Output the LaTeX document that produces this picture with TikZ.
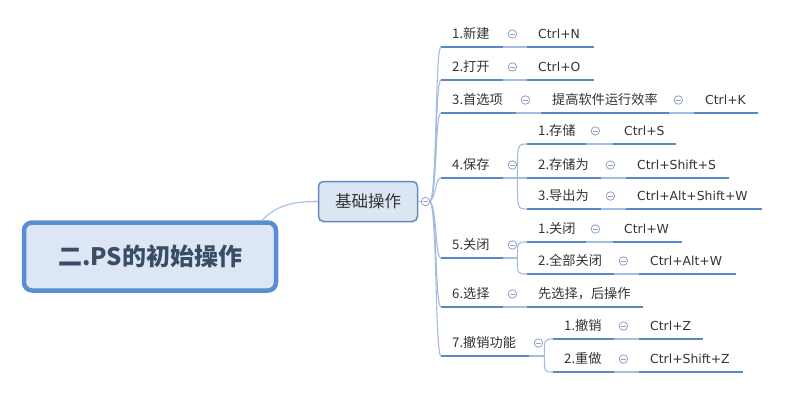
\documentclass[tikz,border=0pt]{standalone}
\usepackage{fontspec}
\setmainfont{Noto Sans CJK SC}
\newfontfamily\lat{DejaVu Sans}
\usetikzlibrary{calc}
\definecolor{ul}{HTML}{5B87C4}
\definecolor{cn}{HTML}{A3BCE0}
\definecolor{ci}{HTML}{8FA3C2}
\definecolor{tx}{HTML}{333333}
\definecolor{rootfill}{HTML}{DCE6F4}
\definecolor{rootdraw}{HTML}{5A8ED0}
\definecolor{rtx}{HTML}{3B4C66}
\definecolor{kfill}{HTML}{DCE6F2}
\definecolor{kdraw}{HTML}{6389C0}
\begin{document}
\begin{tikzpicture}[x=1pt,y=-1pt,
  lbl/.style={anchor=south west, inner xsep=11pt, inner ysep=6pt, text depth=2pt, text height=10pt,
    text width=#1, align=left, font=\fontsize{13.2}{15}\selectfont, text=tx,
    append after command={\pgfextra{\draw[uline] (\tikzlastnode.south west) -- (\tikzlastnode.south east);}}},
  key/.style={lbl=#1, font=\fontsize{12.4}{15}\selectfont\lat},
  uline/.style={draw=ul, line width=2.7pt},
  conn/.style={draw=cn, line width=1.1pt},
  col/.style={circle, draw=ci, line width=0.8pt, minimum size=8.5pt, inner sep=0pt, fill=white,
    path picture={\draw[ci, line width=0.8pt] ([xshift=-2.3pt]path picture bounding box.center) -- ([xshift=2.3pt]path picture bounding box.center);}},
  cshift/.style={shift={(9,-13)}}]
\useasboundingbox (0,0) rectangle (798,407);

% root and main topic
\node[draw=rootdraw, line width=4.5pt, fill=rootfill, rounded corners=8pt, minimum width=252pt, minimum height=68pt,
  font=\fontsize{24}{28}\selectfont\bfseries, text=rtx] (root) at (150,256.5) {二.PS的初始操作};
\node[draw=kdraw, line width=1.5pt, fill=kfill, rounded corners=5pt, minimum width=99pt, minimum height=40pt,
  font=\fontsize{16.5}{19}\selectfont, text=tx] (k) at (368,201.5) {基础操作};
\coordinate (r0) at ([xshift=-16pt]root.north east);
\draw[conn] (r0) .. controls (278,204) and (295,201.5) .. (k.west);
\node[col] (kc) at (425.5,201.5) {};
\draw[conn] (k.east) -- (kc.west);

% level 1
\node[lbl=40pt] (a1) at (441,47) {1.新建};
\node[key=45pt] (a1v) at (527,47) {Ctrl+N};
\node[lbl=40pt] (a2) at (441,80) {2.打开};
\node[key=45pt] (a2v) at (527,80) {Ctrl+O};
\node[lbl=53pt] (a3) at (441,113) {3.首选项};
\node[lbl=106pt] (a3v) at (541,113) {提高软件运行效率};
\node[key=42pt] (a3w) at (694,113) {Ctrl+K};
\node[lbl=40pt] (a4) at (441,178) {4.保存};
\node[lbl=37pt] (b1) at (527,144) {1.存储};
\node[key=41pt] (b1v) at (613,144) {Ctrl+S};
\node[lbl=52pt] (b2) at (527,178) {2.存储为};
\node[key=81pt] (b2v) at (626,178) {Ctrl+Shift+S};
\node[lbl=52pt] (b3) at (527,209) {3.导出为};
\node[key=114pt] (b3v) at (626,209) {Ctrl+Alt+Shift+W};
\node[lbl=40pt] (a5) at (441,258) {5.关闭};
\node[lbl=37pt] (c1) at (527,242) {1.关闭};
\node[key=47pt] (c1v) at (613,242) {Ctrl+W};
\node[lbl=65pt] (c2) at (527,274) {2.全部关闭};
\node[key=75pt] (c2v) at (639,274) {Ctrl+Alt+W};
\node[lbl=40pt] (a6) at (441,307) {6.选择};
\node[lbl=94pt] (a6v) at (527,307) {先选择，后操作};
\node[lbl=66pt] (a7) at (441,356) {7.撤销功能};
\node[lbl=39pt] (d1) at (553,339) {1.撤销};
\node[key=42pt] (d1v) at (639,339) {Ctrl+Z};
\node[lbl=39pt] (d2) at (553,372) {2.重做};
\node[key=82pt] (d2v) at (639,372) {Ctrl+Shift+Z};

% trunk connectors
\foreach \n in {a1,a2,a3,a4}
  \draw[conn] (kc.east) .. controls ($(kc.east)+(7,-8)$) and ([xshift=-6pt]\n.south west) .. (\n.south west);
\foreach \n in {a5,a6,a7}
  \draw[conn] (kc.east) .. controls ($(kc.east)+(7,8)$) and ([xshift=-6pt]\n.south west) .. (\n.south west);

% straight connectors
\foreach \p/\q in {a1/a1v,a2/a2v,a3/a3v,a3v/a3w,b1/b1v,b2/b2v,b3/b3v,c1/c1v,c2/c2v,a6/a6v,d1/d1v,d2/d2v}
  \draw[conn] (\p.south east) -- (\q.south west);

% sub-branches
\coordinate (bp4) at ([xshift=14pt]a4.south east);
\coordinate (bp5) at ([xshift=14pt]a5.south east);
\coordinate (bp7) at ([xshift=15pt]a7.south east);
\draw[conn] (a4.south east) -- (bp4) -- (b2.south west);
\draw[conn] (bp4) .. controls (bp4 |- b1.south west) .. (b1.south west);
\draw[conn] (bp4) .. controls (bp4 |- b3.south west) .. (b3.south west);
\draw[conn] (a5.south east) -- (bp5);
\draw[conn] (bp5) .. controls (bp5 |- c1.south west) .. (c1.south west);
\draw[conn] (bp5) .. controls (bp5 |- c2.south west) .. (c2.south west);
\draw[conn] (a7.south east) -- (bp7);
\draw[conn] (bp7) .. controls (bp7 |- d1.south west) .. (d1.south west);
\draw[conn] (bp7) .. controls (bp7 |- d2.south west) .. (d2.south west);

% collapse markers
\foreach \n in {a1,a2,a3,a3v,a4,a5,a6,a7,b1,b2,b3,c1,c2,d1,d2}
  \node[col] (\n c) at ([cshift]\n.south east) {};
\end{tikzpicture}
\end{document}
